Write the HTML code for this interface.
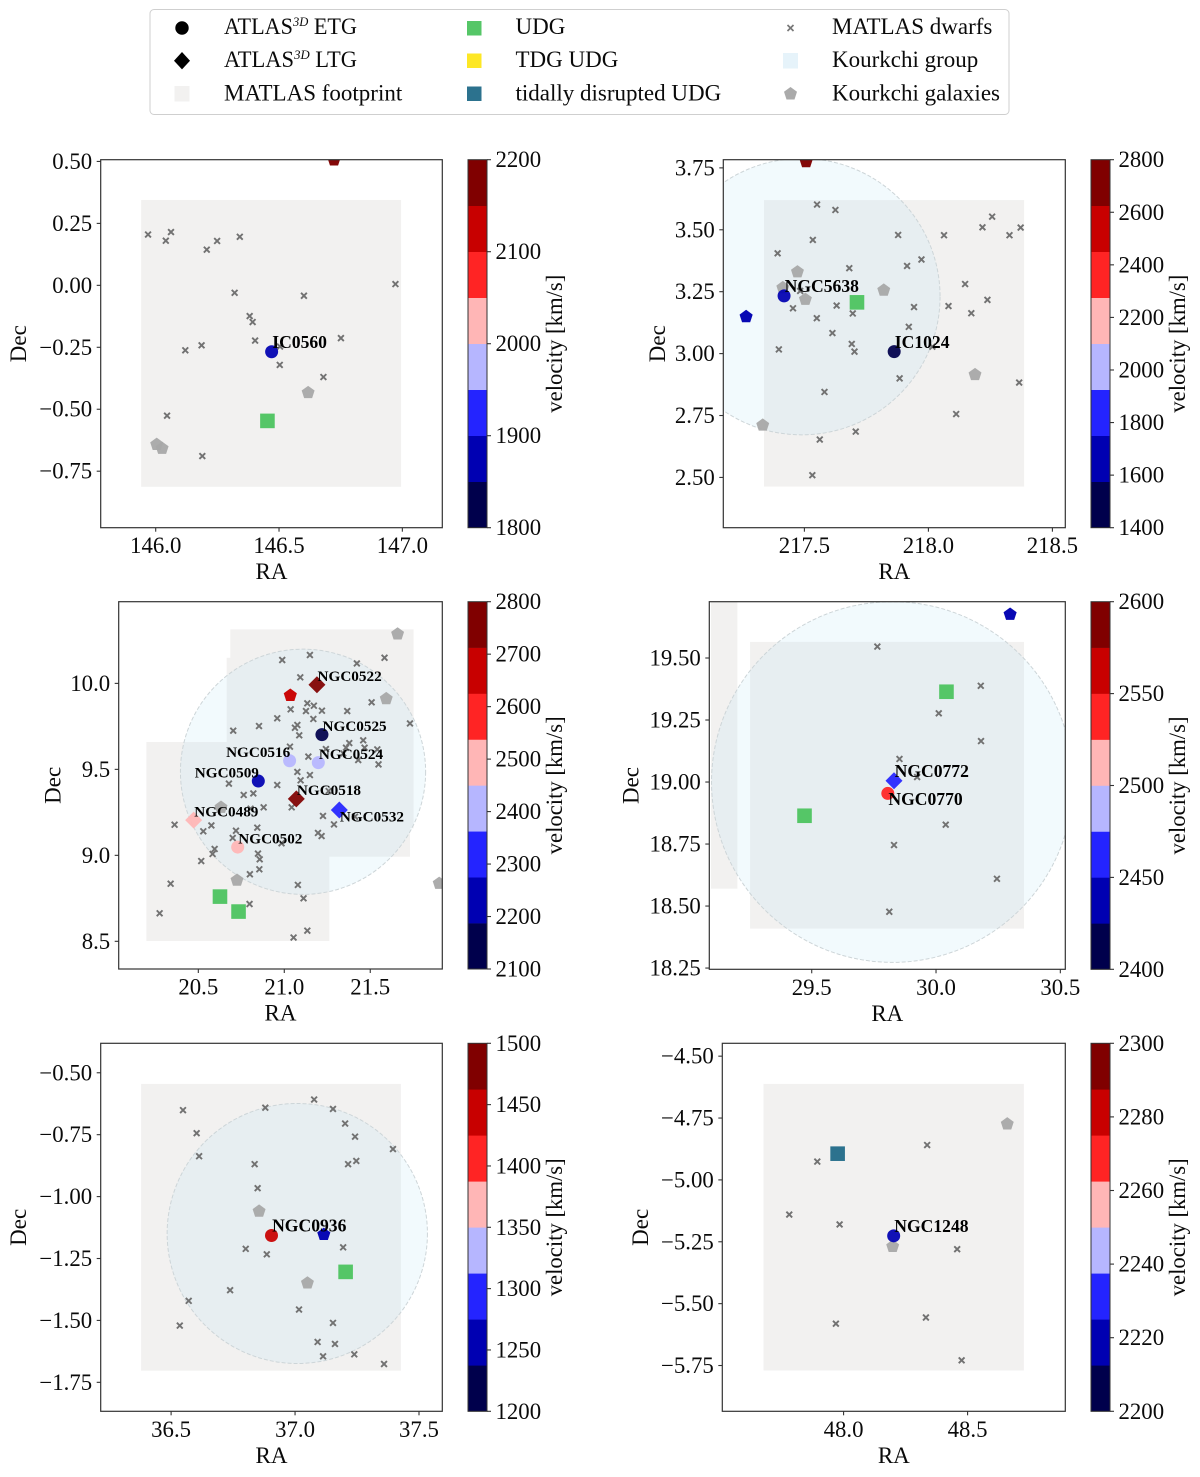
<!DOCTYPE html>
<html lang="en">
<head>
<meta charset="utf-8">
<title>Velocity maps of MATLAS fields</title>
<style>
html,body{margin:0;padding:0;background:#fff;}
svg{display:block;position:absolute;left:0;top:0;filter:blur(0.35px);}
text{font-family:"Liberation Serif","DejaVu Serif",serif;fill:#0a0a0a;}
</style>
</head>
<body>
<svg id="figure" xmlns="http://www.w3.org/2000/svg" width="1200" height="1477" viewBox="0 0 1200 1477">
  <g>
    <rect x="150" y="9.5" width="859" height="105" rx="4" fill="#fff" stroke="#cfcfcf" stroke-width="1"/>
    <circle cx="182" cy="28" r="6.7" fill="#000"/>
    <text x="224" y="34" font-size="23" textLength="133" lengthAdjust="spacingAndGlyphs">ATLAS<tspan font-size="13" font-style="italic" dy="-8">3D</tspan><tspan dy="8"> ETG</tspan></text>
    <polygon points="182,52 190,60.7 182,69.4 174,60.7" fill="#000"/>
    <text x="224" y="67" font-size="23" textLength="133" lengthAdjust="spacingAndGlyphs">ATLAS<tspan font-size="13" font-style="italic" dy="-8">3D</tspan><tspan dy="8"> LTG</tspan></text>
    <rect x="174.5" y="86" width="15" height="15.5" fill="#f2f1f0"/>
    <text x="224" y="100.5" font-size="23">MATLAS footprint</text>
    <rect x="467" y="21" width="14.5" height="14.5" fill="#55c667"/>
    <text x="515.5" y="34" font-size="23">UDG</text>
    <rect x="467" y="53.5" width="14.5" height="14.5" fill="#fde725"/>
    <text x="515.5" y="67" font-size="23">TDG UDG</text>
    <rect x="467" y="86.5" width="14.5" height="14.5" fill="#2c728e"/>
    <text x="515.5" y="100.5" font-size="23">tidally disrupted UDG</text>
    <path d="M787.5 25L793.5 31M793.5 25L787.5 31" stroke="#777" stroke-width="1.7" fill="none"/>
    <text x="832" y="34" font-size="23">MATLAS dwarfs</text>
    <rect x="783" y="53" width="15" height="15.5" fill="#e6f3fa"/>
    <text x="832" y="67" font-size="23">Kourkchi group</text>
    <polygon points="790.5,87 797,91.8 794.5,99.5 786.5,99.5 784,91.8" fill="#aaa"/>
    <text x="832" y="100.5" font-size="23">Kourkchi galaxies</text>
  </g>
</svg>
<script>
// ---- shared colour bins of the velocity colourbar
const seismicBins = ['#00004c','#0000b2','#2424ff','#b6b6ff','#ffb6b6','#ff2424','#c80000','#800000'];

// ---- Panel 1: IC0560
const p1XTicks = [146.0, 146.5, 147.0];
const p1YTicks = [0.50, 0.25, 0.00, -0.25, -0.50, -0.75];
const p1CbTicks = [1800, 1900, 2000, 2100, 2200];
const p1FootRA = [[145.941, 146.995]];
const p1FootDec = [[0.3445, -0.813]];
const p1GroupRA = [];
const p1GroupDec = [];
const p1GroupRad = [];
const p1DwarfRA = [145.969,146.041,146.062,146.207,146.249,146.341,146.972,146.320,146.601,146.381,146.393,146.403,146.751,146.186,146.120,146.504,146.503,146.680,146.046,146.189];
const p1DwarfDec = [0.205,0.180,0.215,0.144,0.179,0.196,0.005,-0.030,-0.042,-0.124,-0.148,-0.223,-0.213,-0.242,-0.262,-0.247,-0.321,-0.370,-0.526,-0.689];
const p1GrayRA = [146.618,146.004,146.026];
const p1GrayDec = [-0.433,-0.642,-0.658];
const p1PentRA = [146.723];
const p1PentDec = [0.506];
const p1PentVel = [2190];
const p1UdgRA = [146.453];
const p1UdgDec = [-0.547];
const p1UdgKind = ['udg'];
const p1GalName = ['IC0560'];
const p1GalType = ['E'];
const p1GalRA = [146.470];
const p1GalDec = [-0.268];
const p1GalVel = [1880];
const p1GalPlace = ['ar'];

// ---- Panel 2: NGC5638 / IC1024
const p2XTicks = [217.5, 218.0, 218.5];
const p2YTicks = [3.75, 3.50, 3.25, 3.00, 2.75, 2.50];
const p2CbTicks = [1400, 1600, 1800, 2000, 2200, 2400, 2600, 2800];
const p2FootRA = [[217.337, 218.386]];
const p2FootDec = [[3.620, 2.463]];
const p2GroupRA = [217.489];
const p2GroupDec = [3.230];
const p2GroupRad = [0.558];
const p2DwarfRA = [217.551,217.625,217.534,217.392,217.878,218.063,218.218,218.257,218.327,218.372,217.972,217.914,217.681,218.148,218.238,217.630,217.454,217.942,218.081,217.695,218.173,217.550,217.921,217.613,217.691,217.702,217.397,218.016,217.884,218.366,217.581,218.112,217.707,217.562,217.532,217.483];
const p2DwarfDec = [3.602,3.580,3.459,3.405,3.479,3.478,3.510,3.553,3.478,3.509,3.380,3.354,3.345,3.281,3.217,3.194,3.183,3.188,3.192,3.162,3.163,3.143,3.108,3.083,3.039,3.008,3.017,3.028,2.900,2.883,2.845,2.756,2.685,2.653,2.509,3.253];
const p2GrayRA = [217.472,217.413,217.504,217.820,218.188,217.332];
const p2GrayDec = [3.330,3.266,3.219,3.256,2.915,2.711];
const p2PentRA = [217.507,217.265];
const p2PentDec = [3.775,3.149];
const p2PentVel = [2750,1700];
const p2UdgRA = [217.712];
const p2UdgDec = [3.207];
const p2UdgKind = ['udg'];
const p2GalName = ['NGC5638','IC1024'];
const p2GalType = ['E','E'];
const p2GalRA = [217.418,217.862];
const p2GalDec = [3.233,3.008];
const p2GalVel = [1650,1450];
const p2GalPlace = ['ar','ar'];

// ---- Panel 3: NGC0524 group
const p3XTicks = [20.5, 21.0, 21.5];
const p3YTicks = [10.0, 9.5, 9.0, 8.5];
const p3CbTicks = [2100, 2200, 2300, 2400, 2500, 2600, 2700, 2800];
const p3FootRA = [[20.686,21.752],[20.665,21.731],[20.198,21.262]];
const p3FootDec = [[10.314,9.157],[10.149,8.992],[9.659,8.502]];
const p3GroupRA = [21.109];
const p3GroupDec = [9.486];
const p3GroupRad = [0.713];
const p3DwarfRA = [20.988,21.149,21.422,21.583,21.093,21.134,21.172,21.126,21.219,21.037,21.366,21.508,20.959,21.169,20.853,20.703,21.076,21.062,21.087,21.731,21.459,21.378,21.467,21.359,21.541,21.242,21.033,21.140,21.430,21.548,21.343,21.076,21.149,21.095,20.959,20.678,20.820,20.764,21.258,20.880,21.043,20.804,21.225,20.362,20.576,21.289,21.411,20.843,20.529,20.719,21.196,21.217,20.700,20.984,20.595,20.583,20.847,20.857,20.517,20.855,20.800,20.339,21.079,21.112,20.798,20.275,21.134,21.054];
const p3DwarfDec = [10.136,10.165,10.116,10.149,10.035,9.884,9.870,9.839,9.841,9.849,9.839,9.890,9.797,9.793,9.752,9.725,9.758,9.742,9.698,9.767,9.669,9.653,9.626,9.626,9.616,9.618,9.632,9.574,9.554,9.529,9.593,9.485,9.467,9.436,9.409,9.417,9.360,9.351,9.374,9.279,9.279,9.271,9.229,9.178,9.174,9.180,9.225,9.161,9.140,9.143,9.130,9.112,9.101,9.070,9.037,9.008,9.010,8.977,8.967,8.919,8.890,8.835,8.828,8.750,8.717,8.663,8.562,8.522];
const p3GrayRA = [21.659,21.593,20.632,20.725,21.901];
const p3GrayDec = [10.287,9.911,9.279,8.855,8.837];
const p3PentRA = [21.035];
const p3PentDec = [9.930];
const p3PentVel = [2670];
const p3UdgRA = [20.626,20.734];
const p3UdgDec = [8.760,8.673];
const p3UdgKind = ['udg','udg'];
const p3GalName = ['NGC0522','NGC0518','NGC0532','NGC0489','NGC0525','NGC0516','NGC0524','NGC0509','NGC0502'];
const p3GalType = ['L','L','L','L','E','E','E','E','E'];
const p3GalRA = [21.190,21.070,21.320,20.473,21.219,21.031,21.198,20.849,20.729];
const p3GalDec = [9.992,9.328,9.264,9.205,9.702,9.550,9.539,9.432,9.048];
const p3GalVel = [2740,2750,2320,2490,2170,2400,2400,2220,2470];
const p3GalPlace = ['ar','ar','br','ar','ar','al','ar','al','ar'];

// ---- Panel 4: NGC0770 / NGC0772
const p4XTicks = [29.5, 30.0, 30.5];
const p4YTicks = [19.50, 19.25, 19.00, 18.75, 18.50, 18.25];
const p4CbTicks = [2400, 2450, 2500, 2550, 2600];
const p4FootRA = [[29.252,30.354],[29.095,29.201]];
const p4FootDec = [[19.565,18.409],[19.80,18.570]];
const p4GroupRA = [29.824];
const p4GroupDec = [19.000];
const p4GroupRad = [0.727];
const p4DwarfRA = [29.764,30.180,30.011,30.181,29.853,29.924,30.039,29.831,30.245,29.812];
const p4DwarfDec = [19.546,19.388,19.277,19.165,19.093,19.020,18.828,18.746,18.610,18.477];
const p4GrayRA = [];
const p4GrayDec = [];
const p4PentRA = [30.298];
const p4PentDec = [19.676];
const p4PentVel = [2435];
const p4UdgRA = [30.042,29.471];
const p4UdgDec = [19.364,18.864];
const p4UdgKind = ['udg','udg'];
const p4GalName = ['NGC0772','NGC0770'];
const p4GalType = ['L','E'];
const p4GalRA = [29.831,29.806];
const p4GalDec = [19.005,18.954];
const p4GalVel = [2465,2540];
const p4GalPlace = ['ar','br'];

// ---- Panel 5: NGC0936
const p5XTicks = [36.5, 37.0, 37.5];
const p5YTicks = [-0.50, -0.75, -1.00, -1.25, -1.50, -1.75];
const p5CbTicks = [1200, 1250, 1300, 1350, 1400, 1450, 1500];
const p5FootRA = [[36.379,37.427]];
const p5FootDec = [[-0.545,-1.703]];
const p5GroupRA = [37.009];
const p5GroupDec = [-1.149];
const p5GroupRad = [0.525];
const p5DwarfRA = [36.548,36.880,37.077,37.153,37.202,36.603,37.242,37.395,36.613,37.247,37.214,36.837,36.849,37.194,36.801,36.886,36.738,36.571,37.016,36.535,37.153,37.091,37.161,37.239,37.113,37.359];
const p5DwarfDec = [-0.651,-0.641,-0.608,-0.646,-0.705,-0.744,-0.758,-0.808,-0.837,-0.856,-0.869,-0.869,-0.966,-1.205,-1.211,-1.233,-1.378,-1.421,-1.456,-1.521,-1.510,-1.587,-1.595,-1.637,-1.645,-1.676];
const p5GrayRA = [36.855,37.050];
const p5GrayDec = [-1.059,-1.349];
const p5PentRA = [37.116];
const p5PentDec = [-1.153];
const p5PentVel = [1260];
const p5UdgRA = [37.204];
const p5UdgDec = [-1.304];
const p5UdgKind = ['udg'];
const p5GalName = ['NGC0936'];
const p5GalType = ['E'];
const p5GalRA = [36.905];
const p5GalDec = [-1.157];
const p5GalVel = [1440];
const p5GalPlace = ['ar'];

// ---- Panel 6: NGC1248
const p6XTicks = [48.0, 48.5];
const p6YTicks = [-4.50, -4.75, -5.00, -5.25, -5.50, -5.75];
const p6CbTicks = [2200, 2220, 2240, 2260, 2280, 2300];
const p6FootRA = [[47.677,48.727]];
const p6FootDec = [[-4.612,-5.770]];
const p6GroupRA = [];
const p6GroupDec = [];
const p6GroupRad = [];
const p6DwarfRA = [47.894,48.337,47.781,47.984,48.458,48.332,47.969,48.476];
const p6DwarfDec = [-4.926,-4.859,-5.140,-5.180,-5.280,-5.556,-5.581,-5.729];
const p6GrayRA = [48.660,48.198];
const p6GrayDec = [-4.774,-5.269];
const p6PentRA = [];
const p6PentDec = [];
const p6PentVel = [];
const p6UdgRA = [47.976];
const p6UdgDec = [-4.894];
const p6UdgKind = ['disrupted'];
const p6GalName = ['NGC1248'];
const p6GalType = ['E'];
const p6GalRA = [48.202];
const p6GalDec = [-5.226];
const p6GalVel = [2220];
const p6GalPlace = ['ar'];

const SVGNS = 'http://www.w3.org/2000/svg';
const root = document.getElementById('figure');

function shape(parent, tagName, attrs) {
  const node = document.createElementNS(SVGNS, tagName);
  for (const k in attrs) node.setAttribute(k, attrs[k]);
  parent.appendChild(node);
  return node;
}
function label(parent, str, attrs) {
  const node = shape(parent, 'text', attrs);
  node.textContent = str;
  return node;
}
function fmt(v, digits) {
  const s = Math.abs(v).toFixed(digits);
  return (v < 0 ? '\u2212' : '') + s;
}
function pentagonPoints(cx, cy, R) {
  const pts = [];
  for (let i = 0; i < 5; i++) {
    const a = -Math.PI / 2 + i * 2 * Math.PI / 5;
    pts.push((cx + R * Math.cos(a)).toFixed(2) + ',' + (cy + R * Math.sin(a)).toFixed(2));
  }
  return pts.join(' ');
}

function drawPanel(p, idx) {
  const sx = ra => p.l + (ra - p.xlim[0]) / (p.xlim[1] - p.xlim[0]) * (p.r - p.l);
  const sy = dec => p.b - (dec - p.ylim[0]) / (p.ylim[1] - p.ylim[0]) * (p.b - p.t);
  const scaleX = (p.r - p.l) / (p.xlim[1] - p.xlim[0]);
  const scaleY = (p.b - p.t) / (p.ylim[1] - p.ylim[0]);
  const binColor = v => {
    const f = (v - p.cb[0]) / (p.cb[p.cb.length - 1] - p.cb[0]);
    const i = Math.max(0, Math.min(seismicBins.length - 1, Math.floor(f * seismicBins.length)));
    return seismicBins[i];
  };

  const g = shape(root, 'g', {});
  
  

  const clip = shape(g, 'clipPath', { id: 'clip-' + idx });
  shape(clip, 'rect', { x: p.l, y: p.t, width: p.r - p.l, height: p.b - p.t });
  const plot = shape(g, 'g', { 'clip-path': 'url(#clip-' + idx + ')' });
  
  

  p.footRA.forEach((ra, i) => {
    const dec = p.footDec[i];
    const el = shape(plot, 'rect', {
      x: sx(ra[0]), y: sy(dec[0]),
      width: sx(ra[1]) - sx(ra[0]), height: sy(dec[1]) - sy(dec[0]),
      fill: '#f2f1f0'
    });
    
    
  });

  p.groupRA.forEach((ra, i) => {
    const el = shape(plot, 'ellipse', {
      cx: sx(ra), cy: sy(p.groupDec[i]),
      rx: p.groupRad[i] * scaleX, ry: p.groupRad[i] * scaleY,
      fill: 'rgba(190,228,245,0.2)', stroke: '#cdd5d8', 'stroke-width': 1, 'stroke-dasharray': '4 2'
    });
    
    
  });

  p.dwarfRA.forEach((ra, i) => {
    const x = sx(ra), y = sy(p.dwarfDec[i]), h = 2.9;
    const el = shape(plot, 'path', {
      d: 'M' + (x - h) + ' ' + (y - h) + 'L' + (x + h) + ' ' + (y + h) + 'M' + (x + h) + ' ' + (y - h) + 'L' + (x - h) + ' ' + (y + h),
      stroke: '#727272', 'stroke-width': 1.9, fill: 'none'
    });
    
    
  });

  p.grayRA.forEach((ra, i) => {
    const el = shape(plot, 'polygon', {
      points: pentagonPoints(sx(ra), sy(p.grayDec[i]), 6.8), fill: '#a8a8a8', 'fill-opacity': 0.95
    });
    
    
  });

  p.udgRA.forEach((ra, i) => {
    const x = sx(ra), y = sy(p.udgDec[i]), h = 7.3;
    const el = shape(plot, 'rect', {
      x: x - h, y: y - h, width: 2 * h, height: 2 * h,
      fill: p.udgKind[i] === 'udg' ? '#55c667' : '#2c728e'
    });
    
    
  });

  p.pentRA.forEach((ra, i) => {
    const el = shape(plot, 'polygon', {
      points: pentagonPoints(sx(ra), sy(p.pentDec[i]), 6.9),
      fill: binColor(p.pentVel[i]), 'fill-opacity': 0.97
    });
    
    
  });

  p.galRA.forEach((ra, i) => {
    const x = sx(ra), y = sy(p.galDec[i]);
    let el;
    if (p.galType[i] === 'L') {
      const h = 8.5;
      el = shape(plot, 'polygon', {
        points: x + ',' + (y - h) + ' ' + (x + h) + ',' + y + ' ' + x + ',' + (y + h) + ' ' + (x - h) + ',' + y,
        fill: binColor(p.galVel[i]), 'fill-opacity': 0.93
      });
    } else {
      el = shape(plot, 'circle', { cx: x, cy: y, r: 6.5, fill: binColor(p.galVel[i]), 'fill-opacity': 0.93 });
    }
    
    
  });

  p.galRA.forEach((ra, i) => {
    const x = sx(ra), y = sy(p.galDec[i]), place = p.galPlace[i];
    const el = label(g, p.galName[i], {
      x: x + 0.6, y: place === 'br' ? y + 11.5 : y - 3.8,
      'font-size': p.labelSize, 'font-weight': 'bold',
      'text-anchor': place === 'al' ? 'end' : 'start', style: 'fill:#000'
    });
    
    
  });

  // frame
  const frame = shape(g, 'rect', {
    x: p.l, y: p.t, width: p.r - p.l, height: p.b - p.t,
    fill: 'none', stroke: '#333', 'stroke-width': 1.2
  });
  
  

  // x ticks
  p.xTicks.forEach(v => {
    const x = sx(v);
    const t = shape(g, 'line', { x1: x, x2: x, y1: p.b, y2: p.b + 4, stroke: '#333', 'stroke-width': 1.1 });
    
    
    const l = label(g, fmt(v, 1), { x: x, y: p.b + 25.5, 'font-size': 22.8, 'text-anchor': 'middle' });
    
    
  });

  // y ticks
  p.yTicks.forEach(v => {
    const y = sy(v);
    const t = shape(g, 'line', { x1: p.l - 4, x2: p.l, y1: y, y2: y, stroke: '#333', 'stroke-width': 1.1 });
    
    
    const l = label(g, fmt(v, p.yDigits), { x: p.l - 8.5, y: y + 7.5, 'font-size': 22.8, 'text-anchor': 'end' });
    
    
  });

  const xTitle = label(g, 'RA', { x: (p.l + p.r) / 2, y: p.b + 51.5, 'font-size': 23, 'text-anchor': 'middle' });
  
  

  const cy = (p.t + p.b) / 2;
  const yTitle = label(g, 'Dec', {
    'font-size': 23, 'text-anchor': 'middle',
    transform: 'translate(' + p.decX + ',' + cy + ') rotate(-90)'
  });
  
  

  // colourbar
  const cb = shape(g, 'g', {});
  
  
  const cbW = 19;
  const cbLo = p.cb[0], cbHi = p.cb[p.cb.length - 1];
  const cyv = v => p.b - (v - cbLo) / (cbHi - cbLo) * (p.b - p.t);
  seismicBins.forEach((c, i) => {
    const y0 = p.b - (i + 1) / seismicBins.length * (p.b - p.t);
    const h = (p.b - p.t) / seismicBins.length;
    const band = shape(cb, 'rect', { x: p.cbL, y: y0, width: cbW, height: h + 0.3, fill: c });
    
    
  });
  const cbFrame = shape(cb, 'rect', { x: p.cbL, y: p.t, width: cbW, height: p.b - p.t, fill: 'none', stroke: '#333', 'stroke-width': 1 });
  
  
  p.cb.forEach(v => {
    const y = cyv(v);
    const t = shape(cb, 'line', { x1: p.cbL + cbW, x2: p.cbL + cbW + 4, y1: y, y2: y, stroke: '#333', 'stroke-width': 1.1 });
    
    
    const l = label(cb, String(v), { x: p.cbL + cbW + 8.5, y: y + 7.5, 'font-size': 22.8 });
    
    
  });
  const cbTitle = label(cb, 'velocity [km/s]', {
    'font-size': 22.8, 'text-anchor': 'middle', textLength: 138, lengthAdjust: 'spacingAndGlyphs',
    transform: 'translate(' + (p.cbL + cbW + 75) + ',' + cy + ') rotate(-90)'
  });
  
  
}

const panels = [
  { id: 'ic0560', l: 100.7, r: 442.3, t: 159.7, b: 527.7, xlim: [145.777, 147.162], ylim: [-0.978, 0.507], cbL: 468, decX: 26, yDigits: 2, labelSize: 17.6,
    xTicks: p1XTicks, yTicks: p1YTicks, cb: p1CbTicks, footRA: p1FootRA, footDec: p1FootDec, groupRA: p1GroupRA, groupDec: p1GroupDec, groupRad: p1GroupRad,
    dwarfRA: p1DwarfRA, dwarfDec: p1DwarfDec, grayRA: p1GrayRA, grayDec: p1GrayDec, pentRA: p1PentRA, pentDec: p1PentDec, pentVel: p1PentVel,
    udgRA: p1UdgRA, udgDec: p1UdgDec, udgKind: p1UdgKind, galName: p1GalName, galType: p1GalType, galRA: p1GalRA, galDec: p1GalDec, galVel: p1GalVel, galPlace: p1GalPlace },
  { id: 'ngc5638', l: 723.3, r: 1065.3, t: 159.7, b: 527.7, xlim: [217.173, 218.552], ylim: [2.297, 3.783], cbL: 1091, decX: 665, yDigits: 2, labelSize: 17.6,
    xTicks: p2XTicks, yTicks: p2YTicks, cb: p2CbTicks, footRA: p2FootRA, footDec: p2FootDec, groupRA: p2GroupRA, groupDec: p2GroupDec, groupRad: p2GroupRad,
    dwarfRA: p2DwarfRA, dwarfDec: p2DwarfDec, grayRA: p2GrayRA, grayDec: p2GrayDec, pentRA: p2PentRA, pentDec: p2PentDec, pentVel: p2PentVel,
    udgRA: p2UdgRA, udgDec: p2UdgDec, udgKind: p2UdgKind, galName: p2GalName, galType: p2GalType, galRA: p2GalRA, galDec: p2GalDec, galVel: p2GalVel, galPlace: p2GalPlace },
  { id: 'ngc0524', l: 118.7, r: 442.3, t: 601.7, b: 969, xlim: [20.037, 21.919], ylim: [8.339, 10.475], cbL: 468, decX: 60.7, yDigits: 1, labelSize: 15.2,
    xTicks: p3XTicks, yTicks: p3YTicks, cb: p3CbTicks, footRA: p3FootRA, footDec: p3FootDec, groupRA: p3GroupRA, groupDec: p3GroupDec, groupRad: p3GroupRad,
    dwarfRA: p3DwarfRA, dwarfDec: p3DwarfDec, grayRA: p3GrayRA, grayDec: p3GrayDec, pentRA: p3PentRA, pentDec: p3PentDec, pentVel: p3PentVel,
    udgRA: p3UdgRA, udgDec: p3UdgDec, udgKind: p3UdgKind, galName: p3GalName, galType: p3GalType, galRA: p3GalRA, galDec: p3GalDec, galVel: p3GalVel, galPlace: p3GalPlace },
  { id: 'ngc0770', l: 709.3, r: 1065.3, t: 601.7, b: 969.3, xlim: [29.088, 30.520], ylim: [18.245, 19.727], cbL: 1091, decX: 638.5, yDigits: 2, labelSize: 17.6,
    xTicks: p4XTicks, yTicks: p4YTicks, cb: p4CbTicks, footRA: p4FootRA, footDec: p4FootDec, groupRA: p4GroupRA, groupDec: p4GroupDec, groupRad: p4GroupRad,
    dwarfRA: p4DwarfRA, dwarfDec: p4DwarfDec, grayRA: p4GrayRA, grayDec: p4GrayDec, pentRA: p4PentRA, pentDec: p4PentDec, pentVel: p4PentVel,
    udgRA: p4UdgRA, udgDec: p4UdgDec, udgKind: p4UdgKind, galName: p4GalName, galType: p4GalType, galRA: p4GalRA, galDec: p4GalDec, galVel: p4GalVel, galPlace: p4GalPlace },
  { id: 'ngc0936', l: 100.7, r: 442.3, t: 1043.3, b: 1411.3, xlim: [36.216, 37.594], ylim: [-1.867, -0.381], cbL: 468, decX: 26, yDigits: 2, labelSize: 17.6,
    xTicks: p5XTicks, yTicks: p5YTicks, cb: p5CbTicks, footRA: p5FootRA, footDec: p5FootDec, groupRA: p5GroupRA, groupDec: p5GroupDec, groupRad: p5GroupRad,
    dwarfRA: p5DwarfRA, dwarfDec: p5DwarfDec, grayRA: p5GrayRA, grayDec: p5GrayDec, pentRA: p5PentRA, pentDec: p5PentDec, pentVel: p5PentVel,
    udgRA: p5UdgRA, udgDec: p5UdgDec, udgKind: p5UdgKind, galName: p5GalName, galType: p5GalType, galRA: p5GalRA, galDec: p5GalDec, galVel: p5GalVel, galPlace: p5GalPlace },
  { id: 'ngc1248', l: 722.3, r: 1065.3, t: 1043.3, b: 1411.3, xlim: [47.511, 48.894], ylim: [-5.935, -4.448], cbL: 1091, decX: 648, yDigits: 2, labelSize: 17.6,
    xTicks: p6XTicks, yTicks: p6YTicks, cb: p6CbTicks, footRA: p6FootRA, footDec: p6FootDec, groupRA: p6GroupRA, groupDec: p6GroupDec, groupRad: p6GroupRad,
    dwarfRA: p6DwarfRA, dwarfDec: p6DwarfDec, grayRA: p6GrayRA, grayDec: p6GrayDec, pentRA: p6PentRA, pentDec: p6PentDec, pentVel: p6PentVel,
    udgRA: p6UdgRA, udgDec: p6UdgDec, udgKind: p6UdgKind, galName: p6GalName, galType: p6GalType, galRA: p6GalRA, galDec: p6GalDec, galVel: p6GalVel, galPlace: p6GalPlace }
];
panels.forEach(drawPanel);
</script>
</body>
</html>
